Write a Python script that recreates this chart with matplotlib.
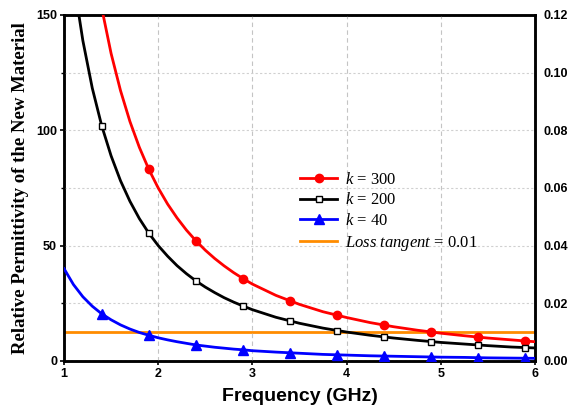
import numpy as np
import matplotlib
matplotlib.use("Agg")
import matplotlib.pyplot as plt
from matplotlib.ticker import MultipleLocator

# smooth curves
freq = [1.0, 1.1, 1.2, 1.3, 1.4, 1.5, 1.6, 1.7, 1.8, 1.9, 2.0, 2.1, 2.2, 2.3, 2.4, 2.5, 2.6,
        2.7, 2.8, 2.9, 3.0, 3.25, 3.5, 3.75, 4.0, 4.25, 4.5, 4.75, 5.0, 5.25, 5.5, 5.75, 6.0]
eps_300 = [300, 247.9, 208.3, 177.5, 153.1, 133.3, 117.2, 103.8, 92.6, 83.1, 75.0, 68.0, 62.0,
           56.7, 52.1, 48.0, 44.4, 41.2, 38.3, 35.7, 33.3, 28.4, 24.5, 21.3, 18.8, 16.6, 14.8,
           13.3, 12.0, 10.9, 9.9, 9.1, 8.3]
eps_200 = [200, 165.3, 138.9, 118.3, 102.0, 88.9, 78.1, 69.2, 61.7, 55.4, 50.0, 45.4, 41.3,
           37.8, 34.7, 32.0, 29.6, 27.4, 25.5, 23.8, 22.2, 18.9, 16.3, 14.2, 12.5, 11.1, 9.9,
           8.9, 8.0, 7.3, 6.6, 6.0, 5.6]
eps_40 = [40.0, 33.1, 27.8, 23.7, 20.4, 17.8, 15.6, 13.8, 12.3, 11.1, 10.0, 9.1, 8.3, 7.6, 6.9,
          6.4, 5.9, 5.5, 5.1, 4.8, 4.4, 3.8, 3.3, 2.8, 2.5, 2.2, 2.0, 1.8, 1.6, 1.5, 1.3, 1.2, 1.1]

# marker points
freq_m = [1.4, 1.9, 2.4, 2.9, 3.4, 3.9, 4.4, 4.9, 5.4, 5.9]
mk_300 = [153.1, 83.1, 52.1, 35.7, 26.0, 19.7, 15.5, 12.5, 10.3, 8.6]
mk_200 = [102.0, 55.4, 34.7, 23.8, 17.3, 13.1, 10.3, 8.3, 6.9, 5.7]
mk_40 = [20.4, 11.1, 6.9, 4.8, 3.5, 2.6, 2.1, 1.7, 1.4, 1.1]

loss_x = [1, 6]
loss_tan = [0.01, 0.01]

plt.rcParams["mathtext.fontset"] = "custom"
plt.rcParams["mathtext.it"] = "Liberation Serif:italic"
plt.rcParams["mathtext.rm"] = "Liberation Serif"

fig = plt.figure(figsize=(5.82, 4.05), dpi=100)
ax = fig.add_axes([0.110, 0.109, 0.809, 0.854])

series = [(eps_300, mk_300, "red", "o", "red", 6, r"$k$ = 300"),
          (eps_200, mk_200, "black", "s", "white", 5, r"$k$ = 200"),
          (eps_40, mk_40, "blue", "^", "blue", 6.5, r"$k$ = 40")]
handles = []
for curve, marks, col, m, face, size, lab in series:
    ax.plot(freq, curve, color=col, lw=2, zorder=3)
    ax.plot(freq_m, marks, ls="none", marker=m, ms=size, mfc=face, mec=col, mew=1, zorder=4)
    h, = ax.plot([], [], color=col, lw=2, marker=m, ms=size, mfc=face, mec=col, mew=1, label=lab)
    handles.append(h)

ax.set_xlim(1, 6)
ax.set_ylim(0, 150)
ax.xaxis.set_major_locator(MultipleLocator(1))
ax.yaxis.set_major_locator(MultipleLocator(50))
ax.yaxis.set_minor_locator(MultipleLocator(25))
ax.grid(axis="x", which="major", color="#c4c4c4", ls=(0, (4, 3)), lw=0.8)
ax.grid(axis="y", which="both", color="#d0d0d0", ls=(0, (2, 2)), lw=0.8)
ax.set_axisbelow(True)

ax2 = ax.twinx()
ax2.set_ylim(0, 0.12)
ax2.yaxis.set_major_locator(MultipleLocator(0.02))
ax2.yaxis.set_major_formatter(matplotlib.ticker.FormatStrFormatter("%.2f"))
lt, = ax2.plot(loss_x, loss_tan, color="#ff8c00", lw=2, label=r"$\it{Loss\ tangent}$ = 0.01")
handles.append(lt)
ax2.set_zorder(ax.get_zorder() - 1)
ax.patch.set_visible(False)

for a in (ax, ax2):
    for s in a.spines.values():
        s.set_linewidth(1.8)
    a.tick_params(direction="out", width=1.2, length=3, pad=2)
    for t in a.get_xticklabels() + a.get_yticklabels():
        t.set_fontfamily("Liberation Sans")
        t.set_fontweight("bold")
        t.set_fontsize(9)
ax.tick_params(which="minor", length=2, width=1)
ax2.tick_params(axis="y", length=0, pad=6)

ax.set_xlabel("Frequency (GHz)", fontfamily="Liberation Sans", fontweight="bold", fontsize=14, labelpad=6)
ax.set_ylabel("Relative Permittivity of the New Material", fontfamily="Liberation Serif",
              fontweight="bold", fontsize=13.5, labelpad=5)

leg = ax.legend(handles=handles, loc="upper left", bbox_to_anchor=(0.47, 0.59), frameon=False,
                prop=dict(family="Liberation Serif", size=12), handlelength=2.2,
                labelspacing=0.28, handletextpad=0.5)

fig.savefig("out.png", dpi=100)
